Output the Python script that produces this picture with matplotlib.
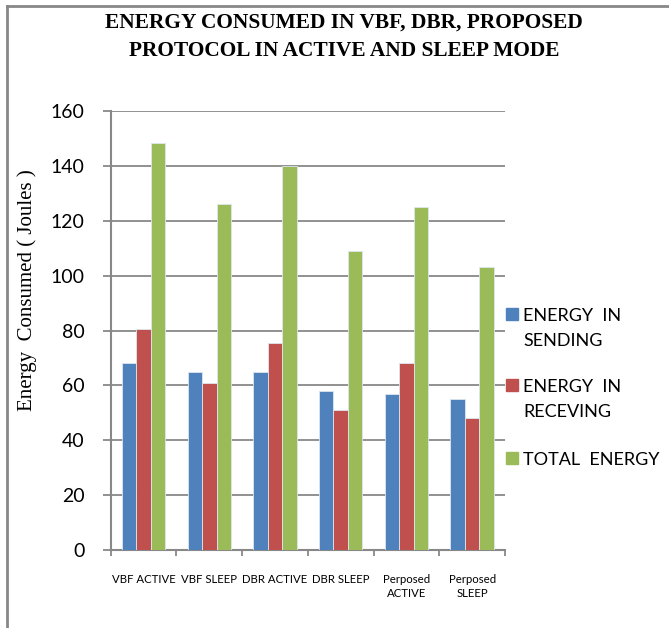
import matplotlib
matplotlib.use("Agg")
import matplotlib.pyplot as plt
import numpy as np
from matplotlib.patches import Rectangle
from matplotlib.lines import Line2D

categories = ["VBF ACTIVE", "VBF SLEEP", "DBR ACTIVE", "DBR SLEEP", "Perposed\nACTIVE", "Perposed\nSLEEP"]
sending = [68, 65, 65, 58, 57, 55]
receiving = [80.5, 61, 75.5, 51, 68, 48]
total = [148.5, 126, 140, 109, 125, 103]
series_names = ["ENERGY  IN\nSENDING", "ENERGY  IN\nRECEVING", "TOTAL  ENERGY"]
colors = ["#4F81BD", "#C0504D", "#9BBB59"]
yticks = [0, 20, 40, 60, 80, 100, 120, 140, 160]

W, H = 669, 628
fig = plt.figure(figsize=(W / 100, H / 100), dpi=100)
ax = fig.add_axes([110.7 / W, 1 - 550 / H, (505 - 110.7) / W, (550 - 111) / H])

x = np.arange(len(categories))
bw = 0.22
for i, (vals, c) in enumerate(zip([sending, receiving, total], colors)):
    ax.bar(x + (i - 1) * bw, vals, width=bw, color=c, edgecolor="#dde6f0", linewidth=0.6, zorder=3)

grey = "#888888"
ax.set_ylim(0, 160)
ax.set_xlim(-0.5, len(categories) - 0.5)
ax.set_yticks(yticks)
ax.set_yticklabels([str(t) for t in yticks], family="Lato", fontsize=14)
ax.yaxis.grid(True, color=grey, linewidth=1.3, zorder=0)
ax.set_axisbelow(True)
for s in ["top", "right"]:
    ax.spines[s].set_visible(False)
for s in ["left", "bottom"]:
    ax.spines[s].set_color(grey)
    ax.spines[s].set_linewidth(1.5)
ax.tick_params(axis="y", length=6, width=1.3, color=grey, pad=13)

ax.set_xticks(x)
ax.set_xticklabels(categories, family="Lato", fontsize=8.2, linespacing=1.4)
ax.set_xticks(np.arange(-0.5, len(categories)), minor=True)
ax.tick_params(axis="x", which="major", length=0, pad=17)
ax.tick_params(axis="x", which="minor", length=4, width=1.3, color=grey)

fig.text(27 / W, 1 - 290 / H, "Energy  Consumed ( Joules )", rotation=90,
         ha="center", va="center", family="Liberation Serif", fontsize=15)

fig.text(344 / W, 1 - 37 / H, "ENERGY CONSUMED IN VBF, DBR, PROPOSED\nPROTOCOL IN ACTIVE AND SLEEP MODE",
         ha="center", va="center", family="Liberation Serif", fontweight="bold",
         fontsize=15.4, linespacing=1.55)

# legend (manual)
sq_y = [314, 385, 458]
for name, c, yc in zip(series_names, colors, sq_y):
    fig.add_artist(Rectangle((506 / W, 1 - (yc + 6) / H), 12 / W, 12 / H,
                             transform=fig.transFigure, color=c))
    fig.text(523 / W, 1 - (yc - 6) / H, name, ha="left", va="top",
             family="Lato", fontsize=13, linespacing=1.72)

# frame lines
fig.add_artist(Line2D([7 / W, 7 / W], [0, 1 - 6 / H], transform=fig.transFigure, color=grey, linewidth=2))
fig.add_artist(Line2D([7 / W, 1], [1 - 6 / H, 1 - 6 / H], transform=fig.transFigure, color=grey, linewidth=2))

fig.savefig("out.png", dpi=100)
